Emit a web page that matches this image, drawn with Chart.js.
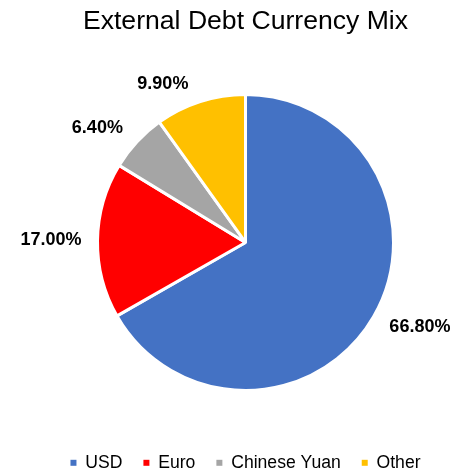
<!DOCTYPE html>
<html>
<head>
<meta charset="utf-8">
<script src="https://cdn.jsdelivr.net/npm/chart.js@4.4.1/dist/chart.umd.min.js"></script>
<style>
    html, body { margin: 0; padding: 0; background: #fff; overflow: hidden; }
    #wrap { width: 467px; height: 472px; }
</style>
</head>
<body>
<div id="wrap"><canvas id="mixChart" width="467" height="472"></canvas></div>
<script>
// --- DATA ---
const currencies = ['USD', 'Euro', 'Chinese Yuan', 'Other'];
const sharePct = [66.8, 17.0, 6.4, 9.9];
const sliceColors = ['#4472C4', '#FF0000', '#A5A5A5', '#FFC000'];

// small nudges for the outside labels (px), same order as currencies
const labelNudgeX = [7, -1, -10, -25];
const labelNudgeY = [0, 0, 1, 3];

// --- OUTSIDE PERCENT LABELS ---
const outsideLabels = {
    id: 'outsideLabels',
    afterDatasetsDraw(chart) {
        const ctx = chart.ctx;
        const meta = chart.getDatasetMeta(0);
        ctx.save();
        ctx.font = 'bold 18px "Liberation Sans", Arial, sans-serif';
        ctx.fillStyle = '#000';
        ctx.textAlign = 'center';
        ctx.textBaseline = 'middle';
        meta.data.forEach((arc, i) => {
            const p = arc.getProps(['x', 'y', 'startAngle', 'endAngle', 'outerRadius'], true);
            const mid = (p.startAngle + p.endAngle) / 2;
            const txt = sharePct[i].toFixed(2) + '%';
            const halfW = ctx.measureText(txt).width / 2;
            const r = p.outerRadius + 15;
            const x = p.x + Math.cos(mid) * r + Math.cos(mid) * halfW + labelNudgeX[i];
            const y = p.y + Math.sin(mid) * r + Math.sin(mid) * 6.5 + labelNudgeY[i];
            ctx.fillText(txt, x, y);
        });
        ctx.restore();
    }
};

// --- CHART ---
const mixChart = new Chart(document.getElementById('mixChart').getContext('2d'), {
    type: 'pie',
    data: {
        labels: currencies,
        datasets: [{
            data: sharePct,
            backgroundColor: sliceColors,
            borderColor: '#fff',
            borderWidth: 3,
            radius: 148
        }]
    },
    options: {
        responsive: false,
        animation: false,
        layout: { padding: { left: 24 } },
        plugins: {
            title: {
                display: true,
                text: 'External Debt Currency Mix',
                color: '#000',
                font: { family: '"Liberation Sans", Arial, sans-serif', size: 26.6, weight: 'normal' },
                padding: { top: 6, bottom: 14 }
            },
            legend: {
                position: 'bottom',
                maxHeight: 39,
                labels: {
                    color: '#000',
                    font: { family: '"Liberation Sans", Arial, sans-serif', size: 17.6 },
                    boxWidth: 6,
                    boxHeight: 6,
                    padding: 21,
                    generateLabels: chart => currencies.map((c, i) => ({
                        text: c,
                        fillStyle: sliceColors[i],
                        strokeStyle: sliceColors[i],
                        lineWidth: 0,
                        hidden: false,
                        index: i
                    }))
                }
            },
            tooltip: { enabled: false }
        }
    },
    plugins: [outsideLabels]
});
</script>
</body>
</html>
